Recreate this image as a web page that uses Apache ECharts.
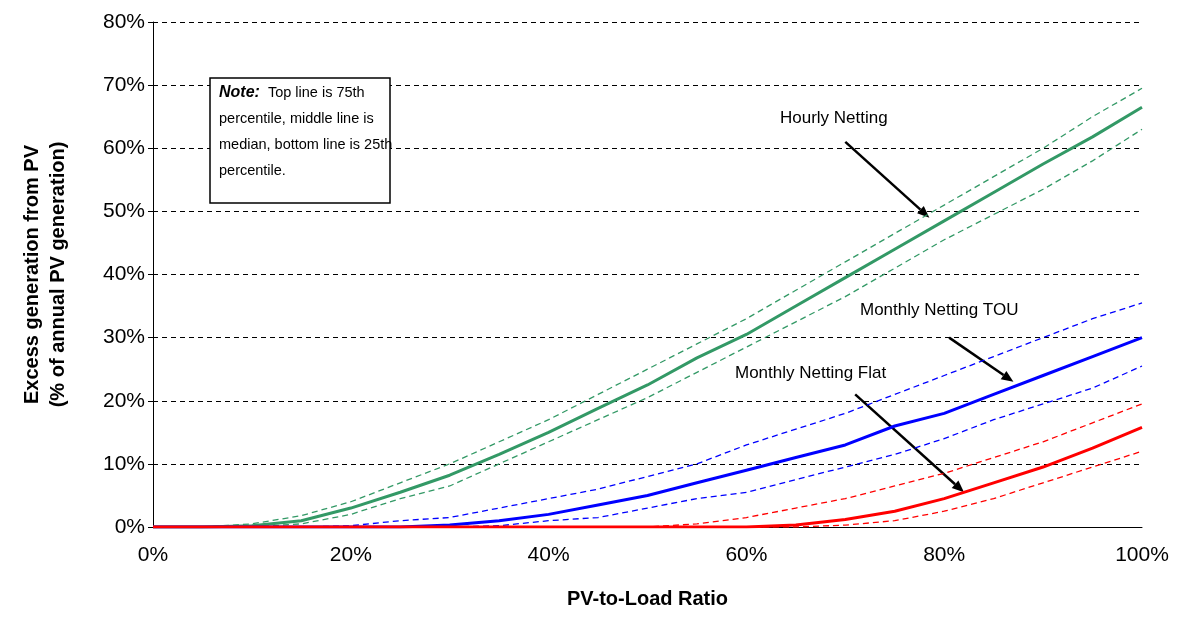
<!DOCTYPE html>
<html>
<head>
<meta charset="utf-8">
<script src="https://cdn.jsdelivr.net/npm/echarts@6/dist/echarts.min.js"></script>
<style>html,body{margin:0;padding:0;background:#fff}#c{width:1178px;height:622px}</style>
</head>
<body>
<div id="c"></div>
<script>
// PV-to-load ratio (%)
var ratios = [0,5,10,15,20,25,30,35,40,45,50,55,60,65,70,75,80,85,90,95,100];
var hourlyP75 = [0,0,0.5,1.8,4,7,10,13.5,17,21,25,29,33,37.5,42,46.5,51,55.5,60,65,69.5];
var hourlyMed = [0,0,0.2,1,3,5.5,8.2,11.5,15,18.8,22.5,26.8,30.5,35,39.5,44,48.5,53,57.5,61.8,66.5];
var hourlyP25 = [0,0,0,0.5,2,4.5,6.5,10,13.5,17,20.5,24.5,28.5,32.5,36.5,41,45.5,49.5,53.5,58,63];
var touP75 = [0,0,0,0,0.2,1,1.5,3,4.5,6,8,10,13,15.5,18,21,24,27,30,33,35.5];
var touMed = [0,0,0,0,0,0,0.3,1,2,3.5,5,7,9,11,13,16,18,21,24,27,30];
var touP25 = [0,0,0,0,0,0,0,0.2,1,1.5,3,4.5,5.5,7.5,9.5,11.5,14,17,19.5,22,25.5];
var flatP75 = [0,0,0,0,0,0,0,0,0,0,0,0.5,1.5,3,4.5,6.5,8.5,11,13.5,16.5,19.5];
var flatMed = [0,0,0,0,0,0,0,0,0,0,0,0,0,0.3,1.2,2.5,4.5,7,9.5,12.5,15.8];
var flatP25 = [0,0,0,0,0,0,0,0,0,0,0,0,0,0,0.3,1,2.5,4.5,7,9.5,12];

var chart = echarts.init(document.getElementById('c'));
var font = 'Arial, "Liberation Sans", sans-serif';

function pairs(v){ return ratios.map(function(x,i){ return [x, v[i]]; }); }
function line(data, color, w, dashed){
  return { type:'line', data:pairs(data), symbol:'none', silent:true,
    lineStyle:{ color:color, width:w, type: dashed ? [6,4] : 'solid' } };
}
var green = '#339966', blue = '#0000ff', red = '#ff0000';

chart.setOption({
  animation:false,
  grid:{ left:153, right:36, top:22, bottom:95 },
  xAxis:{ type:'value', min:0, max:100, interval:20,
    axisLine:{ lineStyle:{ color:'#000' } }, axisTick:{ show:false },
    splitLine:{ show:false },
    axisLabel:{ formatter:'{value}%', color:'#000', fontSize:21, fontFamily:font, margin:18 },
    name:'PV-to-Load Ratio', nameLocation:'middle', nameGap:62,
    nameTextStyle:{ fontSize:20, fontWeight:'bold', fontFamily:font, color:'#000' } },
  yAxis:{ type:'value', min:0, max:80, interval:10,
    axisLine:{ show:true, lineStyle:{ color:'#000' } }, axisTick:{ show:true, length:5, lineStyle:{color:'#000'} },
    splitLine:{ lineStyle:{ color:'#000', type:[5,4] } },
    axisLabel:{ formatter:'{value}%', color:'#000', fontSize:21, fontFamily:font },
    name:'Excess generation from PV\n(% of annual PV generation)', nameLocation:'middle', nameGap:82,
    nameTextStyle:{ fontSize:20, fontWeight:'bold', fontFamily:font, color:'#000', lineHeight:26 } },
  series:[
    line(hourlyP75, green, 1.3, true), line(hourlyMed, green, 3, false), line(hourlyP25, green, 1.3, true),
    line(touP75, blue, 1.3, true), line(touMed, blue, 3, false), line(touP25, blue, 1.3, true),
    line(flatP75, red, 1.3, true), line(flatMed, red, 3, false), line(flatP25, red, 1.3, true)
  ],
  graphic:[
    { type:'rect', shape:{ x:210, y:78, width:180, height:125 }, style:{ fill:'#fff', stroke:'#000', lineWidth:1.5 } },
    { type:'text', left:219, top:85, style:{
      rich:{ b:{ fontStyle:'italic', fontWeight:'bold', fontSize:16, fontFamily:font, lineHeight:26 },
             n:{ fontSize:14.5, fontFamily:font, lineHeight:26 } },
      text:'{b|Note:}{n|  Top line is 75th}\n{n|percentile, middle line is}\n{n|median, bottom line is 25th}\n{n|percentile.}', fill:'#000' } },
    { type:'text', left:780, top:110, style:{ text:'Hourly Netting', fontSize:17, fontFamily:font, fill:'#000' } },
    { type:'text', left:860, top:302, style:{ text:'Monthly Netting TOU', fontSize:17, fontFamily:font, fill:'#000' } },
    { type:'text', left:735, top:365, style:{ text:'Monthly Netting Flat', fontSize:17, fontFamily:font, fill:'#000' } }
  ]
});

// arrows anchored to data coordinates
function arrow(x1,y1,x2,y2){
  var dx=x2-x1, dy=y2-y1, L=Math.sqrt(dx*dx+dy*dy), ux=dx/L, uy=dy/L, s=12, w=5;
  return [
    { type:'line', shape:{ x1:x1, y1:y1, x2:x2-ux*s, y2:y2-uy*s }, style:{ stroke:'#000', lineWidth:2.5 } },
    { type:'polygon', shape:{ points:[[x2,y2],[x2-ux*s-uy*w, y2-uy*s+ux*w],[x2-ux*s+uy*w, y2-uy*s-ux*w]] }, style:{ fill:'#000' } }
  ];
}
var g = chart.getOption().graphic[0].elements.slice();
var tips = [ [[70,61],[78.5,49]], [[80.5,30],[87,23]], [[71,21],[82,5.5]] ];
tips.forEach(function(t){
  var a = chart.convertToPixel({gridIndex:0}, t[0]), b = chart.convertToPixel({gridIndex:0}, t[1]);
  g = g.concat(arrow(a[0],a[1],b[0],b[1]));
});
chart.setOption({ graphic: g }, { replaceMerge:['graphic'] });
</script>
</body>
</html>
